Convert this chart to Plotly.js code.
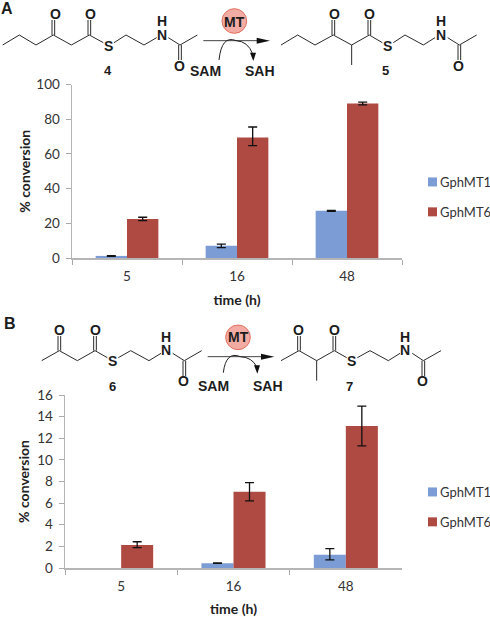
<!DOCTYPE html>
<html>
<head>
<meta charset="utf-8">
<script src="https://cdn.plot.ly/plotly-3.0.1.min.js"></script>
<style>html,body{margin:0;padding:0;background:#fff}</style>
</head>
<body>
<div id="chart" style="width:490px;height:617px"></div>
<script>
// ---- chart data ----
const times = ['5', '16', '48'];
const seriesNames = ['GphMT1', 'GphMT6'];
const aMT1 = [1.2, 7, 27.2];
const aMT1Plus = [0.2, 1, 0.3];
const aMT1Minus = [0.2, 1, 0.3];
const aMT6 = [22.5, 69.5, 89];
const aMT6Plus = [1, 6, 0.8];
const aMT6Minus = [1, 4.7, 0.8];
const bMT1 = [null, 0.45, 1.23];
const bMT1Plus = [0, 0.03, 0.57];
const bMT1Minus = [0, 0.03, 0.48];
const bMT6 = [2.13, 7.05, 13.13];
const bMT6Plus = [0.3, 0.85, 1.85];
const bMT6Minus = [0.25, 0.85, 1.83];
const blue = '#7B9CD5', red = '#AF4A43';

// ---- reaction schemes (image pixels x3) ----
const chains = [
  [[8,135],[58,105],[108,135],[160,105],[214,135],[268,105],[310,128]],
  [[342,128],[378,105],[432,135],[470,113]],
  [[505,113],[540,135],[592,105]],
  [[843,135],[893,105],[945,135],[1000,105],[1055,135],[1108,105],[1147,128]],
  [[1180,128],[1215,105],[1270,135],[1305,113]],
  [[1343,113],[1378,135],[1430,105]],
  [[1055,135],[1055,195]],
  [[125,1082],[178,1052],[232,1082],[285,1052],[322,1073]],
  [[355,1073],[392,1052],[447,1082],[483,1060]],
  [[518,1060],[553,1082],[605,1052]],
  [[843,1082],[897,1052],[950,1082],[1003,1052],[1040,1073]],
  [[1072,1073],[1110,1052],[1165,1082],[1200,1060]],
  [[1237,1060],[1270,1082],[1323,1052]],
  [[950,1082],[950,1142]]
];
const doubles = [
  [160,105,60],[268,105,60],[540,135,180],[1000,105,60],[1108,105,60],[1378,135,180],
  [178,1052,1008],[285,1052,1008],[553,1082,1128],[897,1052,1008],[1003,1052,1008],[1270,1082,1128]
];
const atoms = [
  ['O',165,43],['O',270,43],['S',325,137],['H',485,63],['N',485,106],['O',538,197],
  ['O',1002,43],['O',1107,43],['S',1162,137],['H',1322,63],['N',1322,106],['O',1376,197],
  ['O',177,990],['O',285,990],['S',338,1083],['H',497,1010],['N',497,1051],['O',551,1144],
  ['O',895,990],['O',1002,990],['S',1055,1083],['H',1216,1010],['N',1216,1051],['O',1268,1144],
  ['SAM',615,212],['SAH',780,212],['SAM',640,1158],['SAH',805,1158],
  ['MT',703,65],['MT',714,1012]
];
const compoundLabels = [['4',323,213],['5',1157,213],['6',336,1158],['7',1048,1158]];
const panelLabels = [['A',20,26],['B',31,970]];
const arrows = [[610,122,703,63,657,180,760,178],[623,1070,714,1012,670,1118,772,1116]];

const px = x => x / 490;
const py = y => 1 - y / 617;
const P = (x, y) => px(x / 3) + ',' + py(y / 3);
const shapes = [];
const black = '#2a2a2a';
function pathShape(path, fill, w, col) {
  shapes.push({type:'path', xref:'paper', yref:'paper', path,
    fillcolor: fill || 'rgba(0,0,0,0)', line:{color: col || black, width: w === undefined ? 1 : w}});
}
chains.forEach(c => pathShape('M' + c.map(p => P(p[0], p[1])).join('L')));
doubles.forEach(d => {
  pathShape('M' + P(d[0]-4, d[1]) + 'L' + P(d[0]-4, d[2]));
  pathShape('M' + P(d[0]+4, d[1]) + 'L' + P(d[0]+4, d[2]));
});
arrows.forEach(a => {
  const [x0,y0,cx,cy,sx,sy,ex,ey] = a;
  pathShape('M' + P(x0,y0) + 'L' + P(x0+175,y0), null, 1, '#444');
  pathShape('M' + P(x0+160,y0-9) + 'L' + P(x0+200,y0) + 'L' + P(x0+160,y0+9) + 'Z', '#111', 0);
  pathShape('M' + P(sx,sy) + 'Q' + P(sx+8,y0-18) + ' ' + P((sx+ex)/2,y0) + 'Q' + P(ex-16,y0+2) + ' ' + P(ex-2,sy-18), null, 1, '#222');
  pathShape('M' + P(ex-10,sy-22) + 'L' + P(ex+8,sy-22) + 'L' + P(ex,sy+3) + 'Z', '#111', 0);
  shapes.push({type:'circle', xref:'paper', yref:'paper',
    x0:px((cx-37)/3), x1:px((cx+37)/3), y0:py((cy+37)/3), y1:py((cy-37)/3),
    fillcolor:'#F2ACA3', line:{color:'#E2705F', width:1}});
});

const annotations = [];
function txt(t, x, y, size) {
  annotations.push({text:t, xref:'paper', yref:'paper', x:px(x/3), y:py(y/3), xanchor:'center', yanchor:'middle',
    showarrow:false, font:{family:'"Liberation Sans", Arial, sans-serif', size, color:'#1c1c1c'}});
}
atoms.forEach(a => txt('<b>' + a[0] + '</b>', a[1], a[2], 14));
compoundLabels.forEach(a => txt('<b>' + a[0] + '</b>', a[1], a[2], 13));
panelLabels.forEach(a => txt('<b>' + a[0] + '</b>', a[1], a[2], 16));

function bar(name, y, plus, minus, color, xa, ya, lg) {
  return {type:'bar', name, x:times, y, xaxis:xa, yaxis:ya, legend:lg, legendgroup:name,
    marker:{color, line:{width:0}},
    error_y:{type:'data', symmetric:false, array:plus, arrayminus:minus, color:'#111', thickness:1.3, width:4.5}};
}
const traces = [
  bar(seriesNames[0], aMT1, aMT1Plus, aMT1Minus, blue, 'x', 'y', 'legend'),
  bar(seriesNames[1], aMT6, aMT6Plus, aMT6Minus, red, 'x', 'y', 'legend'),
  bar(seriesNames[0], bMT1, bMT1Plus, bMT1Minus, blue, 'x2', 'y2', 'legend2'),
  bar(seriesNames[1], bMT6, bMT6Plus, bMT6Minus, red, 'x2', 'y2', 'legend2')
];
const tickFont = {family:'Lato, sans-serif', size:13.5, color:'#333'};
const titleFont = {family:'Lato, sans-serif', size:14, color:'#222'};
function xAxis(l, r, anchor) {
  return {domain:[px(l), px(r)], anchor, type:'category', tickson:'boundaries', ticks:'outside', ticklen:5, tickwidth:1, tickcolor:'#aaa',
    linecolor:'#b5b5b5', linewidth:1.5, showline:true, showgrid:false, zeroline:false, tickfont:tickFont, ticklabelstandoff:5,
    title:{text:'<b>time (h)</b>', font:titleFont, standoff:12}};
}
function yAxis(t, b, max, dtick, anchor, standoff) {
  return {domain:[py(b), py(t)], anchor, range:[0,max], dtick, ticks:'outside', ticklen:5, tickwidth:1, tickcolor:'#aaa',
    linecolor:'#b5b5b5', linewidth:1.5, showline:true, showgrid:false, zeroline:false, tickfont:tickFont, ticklabelstandoff:3,
    title:{text:'<b>% conversion</b>', font:titleFont, standoff}};
}
function legendAt(y) {
  return {x:px(400), xanchor:'left', y:py(y), yanchor:'top',
    font:{family:'Lato, sans-serif', size:13, color:'#333'},
    tracegroupgap:10, itemwidth:30, bgcolor:'rgba(0,0,0,0)', traceorder:'grouped', itemclick:false, itemdoubleclick:false};
}
const layout = {
  width:490, height:617, margin:{l:0,r:0,t:0,b:0,autoexpand:false}, paper_bgcolor:'#fff', plot_bgcolor:'#fff',
  barmode:'group', bargap:0.43, bargroupgap:0, showlegend:true,
  xaxis:xAxis(72,402,'y'), yaxis:yAxis(84.5,258,100,20,'x',2),
  xaxis2:xAxis(65,402,'y2'), yaxis2:yAxis(395,568,16,2,'x2',4),
  legend:legendAt(167), legend2:legendAt(477),
  shapes, annotations
};
Plotly.newPlot('chart', traces, layout, {displayModeBar:false, staticPlot:true}).then(gd => {
  // the reference's legend keys are smaller and sit right next to their labels
  gd.querySelectorAll('.legendpoints path').forEach(k => {
    k.setAttribute('transform', 'translate(32.5,0) scale(0.75)');
  });
});
</script>
</body>
</html>
